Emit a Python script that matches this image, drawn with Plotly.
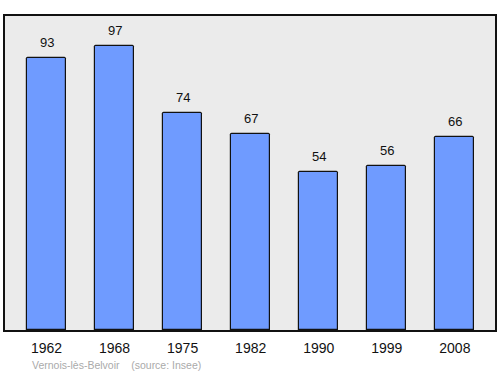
import plotly.graph_objects as go

years = ["1962", "1968", "1975", "1982", "1990", "1999", "2008"]
population = [93, 97, 74, 67, 54, 56, 66]
caption = "Vernois-lès-Belvoir    (source: Insee)"

fig = go.Figure()
fig.add_trace(go.Bar(
    x=list(range(len(years))), y=population,
    width=0.57,
    marker=dict(color="#6f9bff", line=dict(color="#111111", width=1.2), cornerradius=2),
    hoverinfo="skip",
))

for i, v in enumerate(population):
    fig.add_annotation(x=i, y=v, text=str(v), showarrow=False, yanchor="bottom",
                       yshift=6, font=dict(family="Liberation Sans, Arial", size=13, color="#111111"))

fig.add_annotation(xref="paper", yref="paper", x=(30 - 5) / 492, y=-0.111, xanchor="left", yanchor="middle",
                   text=caption, showarrow=False,
                   font=dict(family="Liberation Sans, Arial", size=10.5, color="#aaaaaa"))

fig.update_layout(
    width=500, height=374,
    margin=dict(l=5, r=3, t=16, b=44),
    paper_bgcolor="white", plot_bgcolor="#ebebeb",
    showlegend=False,
    bargap=0,
    xaxis=dict(range=[-0.61, 6.59], tickmode="array", tickvals=list(range(len(years))), ticktext=years,
               showgrid=False, zeroline=False, showline=True, mirror=True, linecolor="#111111", linewidth=1.5,
               ticks="", tickfont=dict(family="Liberation Sans, Arial", size=14, color="#111111"), ticklabelstandoff=4),
    yaxis=dict(range=[0, 107.2], showgrid=False, zeroline=False, showticklabels=False, ticks="",
               showline=True, mirror=True, linecolor="#111111", linewidth=1.5),
)

fig.write_html("out.html")
